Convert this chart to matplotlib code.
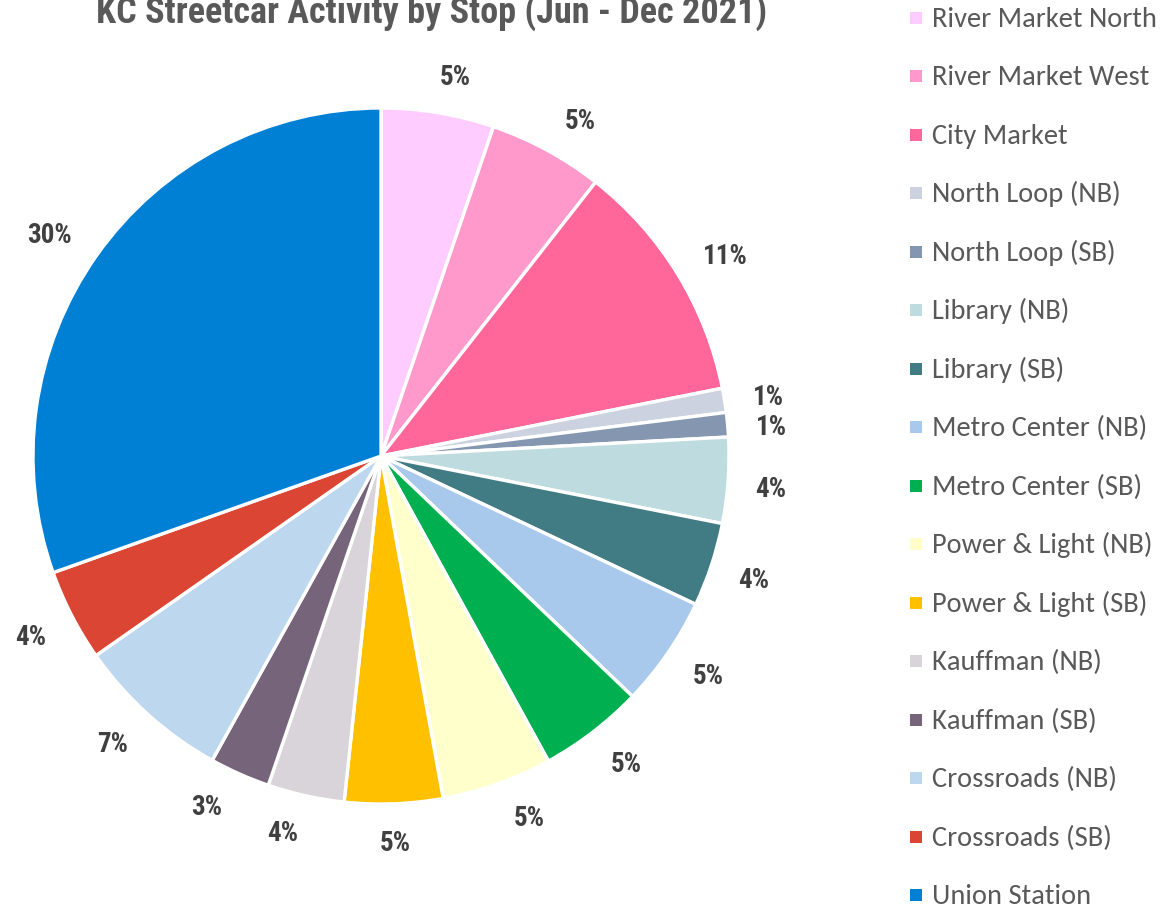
import numpy as np
import matplotlib
matplotlib.use("Agg")
import matplotlib.pyplot as plt
from matplotlib.patches import Rectangle

stops = ["River Market North", "River Market West", "City Market",
         "North Loop (NB)", "North Loop (SB)", "Library (NB)", "Library (SB)",
         "Metro Center (NB)", "Metro Center (SB)", "Power & Light (NB)",
         "Power & Light (SB)", "Kauffman (NB)", "Kauffman (SB)",
         "Crossroads (NB)", "Crossroads (SB)", "Union Station"]
shares = [5.24, 5.34, 11.30, 1.12, 1.13, 3.98, 3.90, 5.13, 4.87, 5.13,
          4.55, 3.56, 2.81, 7.22, 4.28, 30.44]
colors = ["#FFCCFF", "#FF99CC", "#FF6699", "#CCD2DF", "#8496B0", "#BEDCDF",
          "#417B84", "#A9C9EC", "#00B050", "#FFFFCC", "#FFC000", "#D9D3DA",
          "#76657A", "#BDD7EE", "#DB4533", "#0080D4"]
title = "KC Streetcar Activity by Stop (Jun - Dec 2021)"

# layout only: small angular nudges (degrees, clockwise) of the data labels
label_nudge = [1.7, 2.2, 1.3, 0.3, 0.7, 0.5, 0.0, -0.7, -1.1, -2.8,
               0.0, 2.2, 2.6, 1.1, 0.2, -1.3]

COND = ["Roboto Condensed", "PT Sans Narrow", "DejaVu Sans"]
LEG = ["Carlito", "Open Sans", "DejaVu Sans"]

W, H = 1165, 906
fig = plt.figure(figsize=(W / 100, H / 100), dpi=100)
cx, cy, r = 381, 456, 348
ax = fig.add_axes([(cx - r) / W, (H - cy - r) / H, 2 * r / W, 2 * r / H])

wedges, _ = ax.pie(
    shares, colors=colors, startangle=90, counterclock=False,
    wedgeprops=dict(edgecolor="white", linewidth=2.4))
ax.set_xlim(-1, 1)
ax.set_ylim(-1, 1)
ax.set_aspect("equal")
ax.axis("off")

# percentage labels placed just outside each wedge (Excel "outside end" style)
total = sum(shares)
lab_fs = 19.5
cap_px = 0.71 * lab_fs * 100 / 72
renderer = fig.canvas.get_renderer()
gap_px = 27
for w, v, nd in zip(wedges, shares, label_nudge):
    t = ax.text(0, 0, f"{100 * v / total:.0f}%", fontsize=lab_fs, fontweight="bold",
                color="#404040", family=COND, ha="center", va="baseline")
    ext = t.get_window_extent(renderer)
    hw = ext.width / 2
    hh = cap_px / 2
    ang = np.deg2rad((w.theta1 + w.theta2) / 2 - nd)
    dx, dy = np.cos(ang), np.sin(ang)
    rr = r + gap_px + abs(dx) * hw + abs(dy) * hh
    x = rr * dx / r
    y = (rr * dy - hh) / r
    t.set_position((x, y))

fig.text(432 / W, 1 - 23 / H, title, ha="center", va="baseline",
         fontsize=26, fontweight="bold", color="#595959", family=COND)

# legend
y0, dy_ = 18, 58.47
for i, (name, c) in enumerate(zip(stops, colors)):
    yc = y0 + i * dy_
    fig.patches.append(Rectangle((910 / W, 1 - (yc + 6) / H), 12 / W, 12 / H,
                                 transform=fig.transFigure, facecolor=c,
                                 edgecolor="none", figure=fig))
    fig.text(932 / W, 1 - (yc + 9) / H, name, ha="left", va="baseline",
             fontsize=20.5, color="#595959", family=LEG)

fig.savefig("out.png", dpi=100, facecolor="white")
